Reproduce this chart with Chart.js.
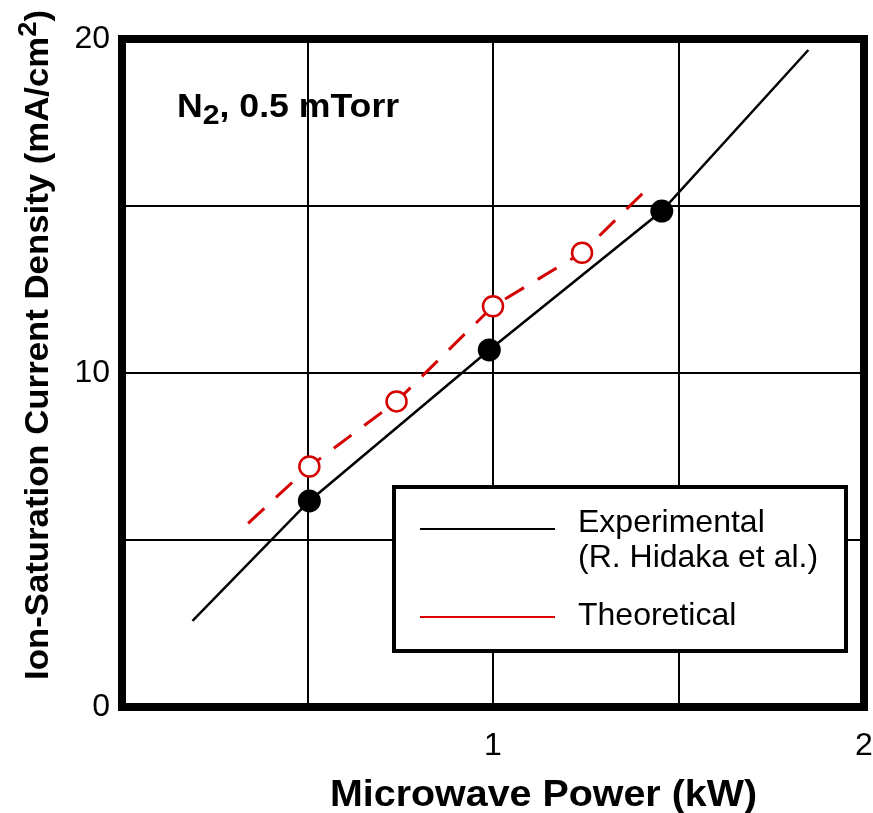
<!DOCTYPE html>
<html>
<head>
<meta charset="utf-8">
<script src="https://cdn.jsdelivr.net/npm/chart.js@4.4.1/dist/chart.umd.min.js"></script>
<style>
  html, body { margin: 0; padding: 0; background: #fff; }
</style>
</head>
<body>
<canvas id="plasma" width="873" height="813"></canvas>
<script>
// measured ion-saturation current density vs. microwave power,
// line carried on past the first and last measurement
const expPower = [0.19, 0.505, 0.99, 1.455, 1.85];
const expDensity = [2.58, 6.17, 10.69, 14.85, 19.67];
const expMarked = [false, true, true, true, false];

// calculated values (line ends carry no marker)
const theoPower = [0.34, 0.505, 0.74, 1.0, 1.24, 1.41];
const theoDensity = [5.5, 7.2, 9.15, 12.0, 13.6, 15.45];
const theoMarked = [false, true, true, true, true, false];

const xLabeled = [1, 2];
const yLabeled = [0, 10, 20];

const RED = "#d40000";
const FONT = "'Liberation Sans', Arial, Helvetica, sans-serif";

function toPoints(xs, ys) {
  return xs.map(function (x, i) {
    return { x: x, y: ys[i] };
  });
}

// draws text stretched horizontally by sx, returns drawn width
function wideText(ctx, str, x, y, sx) {
  ctx.save();
  ctx.translate(x, y);
  ctx.scale(sx, 1);
  ctx.fillText(str, 0, 0);
  ctx.restore();
  return ctx.measureText(str).width * sx;
}

const figureText = {
  id: "figureText",
  afterDraw: function (chart) {
    const ctx = chart.ctx;
    const a = chart.chartArea;
    ctx.save();

    // heavy frame round the plot
    ctx.strokeStyle = "#000";
    ctx.lineWidth = 8;
    ctx.strokeRect(a.left, a.top, a.right - a.left, a.bottom - a.top);

    ctx.fillStyle = "#000";
    ctx.textAlign = "left";
    ctx.textBaseline = "alphabetic";

    // gas / pressure note
    const nsx = 1.08;
    ctx.font = "bold 33px " + FONT;
    let x = 177;
    x += wideText(ctx, "N", x, 117, nsx);
    ctx.font = "bold 28px " + FONT;
    x += wideText(ctx, "2", x, 124, nsx);
    ctx.font = "bold 33px " + FONT;
    wideText(ctx, ", 0.5 mTorr", x, 117, nsx);

    // x axis title
    ctx.font = "bold 36px " + FONT;
    const xt = "Microwave Power (kW)";
    const xsx = 427 / ctx.measureText(xt).width;
    wideText(ctx, xt, 330, 806, xsx);

    // y axis title, rotated, with superscript
    ctx.save();
    ctx.translate(48, 680);
    ctx.rotate(-Math.PI / 2);
    ctx.font = "bold 33px " + FONT;
    const main = "Ion-Saturation Current Density (mA/cm";
    const mw = ctx.measureText(main).width + ctx.measureText(")").width;
    ctx.font = "bold 26px " + FONT;
    const sw = ctx.measureText("2").width;
    const ysx = 670 / (mw + sw);
    ctx.font = "bold 33px " + FONT;
    let p = wideText(ctx, main, 0, 0, ysx);
    ctx.font = "bold 26px " + FONT;
    p += wideText(ctx, "2", p, -12, ysx);
    ctx.font = "bold 33px " + FONT;
    wideText(ctx, ")", p, 0, ysx);
    ctx.restore();

    // legend box
    ctx.fillStyle = "#fff";
    ctx.fillRect(394, 487, 452, 164);
    ctx.strokeStyle = "#000";
    ctx.lineWidth = 4;
    ctx.strokeRect(394, 487, 452, 164);

    ctx.lineWidth = 2;
    ctx.beginPath();
    ctx.moveTo(420, 529);
    ctx.lineTo(555, 529);
    ctx.stroke();
    ctx.strokeStyle = "#e00000";
    ctx.beginPath();
    ctx.moveTo(420, 617);
    ctx.lineTo(555, 617);
    ctx.stroke();

    ctx.fillStyle = "#000";
    ctx.font = "32px " + FONT;
    ctx.fillText("Experimental", 578, 532);
    ctx.fillText("(R. Hidaka et al.)", 578, 567);
    ctx.fillText("Theoretical", 578, 625);

    ctx.restore();
  },
};

new Chart("plasma", {
  type: "line",
  data: {
    datasets: [
      {
        label: "Experimental",
        data: toPoints(expPower, expDensity),
        borderColor: "#000",
        borderWidth: 2.5,
        fill: false,
        pointRadius: expMarked.map(function (m) { return m ? 11.5 : 0; }),
        pointBackgroundColor: "#000",
        pointBorderColor: "#000",
        pointBorderWidth: 0,
      },
      {
        label: "Theoretical",
        data: toPoints(theoPower, theoDensity),
        borderColor: RED,
        borderWidth: 3,
        borderDash: [22, 16],
        fill: false,
        pointRadius: theoMarked.map(function (m) { return m ? 10 : 0; }),
        pointBackgroundColor: "#fff",
        pointBorderColor: RED,
        pointBorderWidth: 2.5,
      },
    ],
  },
  options: {
    responsive: false,
    animation: false,
    devicePixelRatio: 1,
    layout: { padding: { top: 39, right: 9, left: 0, bottom: 0 } },
    plugins: {
      legend: { display: false },
      tooltip: { enabled: false },
    },
    scales: {
      x: {
        type: "linear",
        min: 0,
        max: 2,
        afterFit: function (scale) {
          scale.height = 106;
          scale.paddingLeft = 0;
          scale.paddingRight = 0;
        },
        border: { display: false },
        grid: { color: "#000", lineWidth: 2, drawTicks: false },
        ticks: {
          stepSize: 0.5,
          padding: 20,
          color: "#000",
          font: { family: FONT, size: 32 },
          callback: function (v) {
            return xLabeled.indexOf(v) >= 0 ? String(v) : "";
          },
        },
      },
      y: {
        type: "linear",
        min: 0,
        max: 20,
        afterFit: function (scale) {
          scale.width = 122;
          scale.paddingTop = 0;
          scale.paddingBottom = 0;
        },
        border: { display: false },
        grid: { color: "#000", lineWidth: 2, drawTicks: false },
        ticks: {
          stepSize: 5,
          padding: 12,
          color: "#000",
          font: { family: FONT, size: 32 },
          callback: function (v) {
            return yLabeled.indexOf(v) >= 0 ? String(v) : "";
          },
        },
      },
    },
  },
  plugins: [figureText],
});
</script>
</body>
</html>
